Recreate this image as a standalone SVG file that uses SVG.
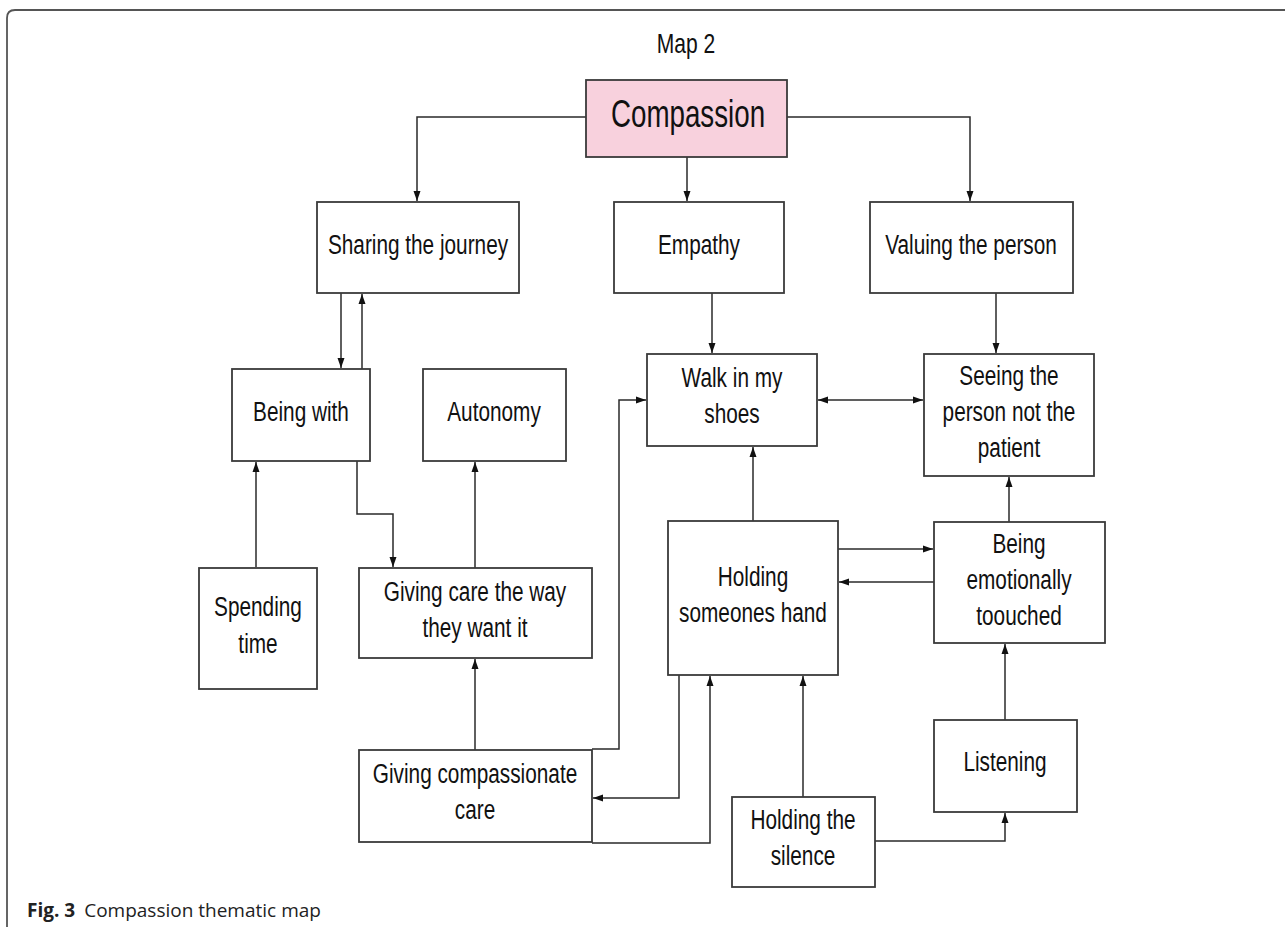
<svg xmlns="http://www.w3.org/2000/svg" width="1285" height="927" viewBox="0 0 1285 927">
<defs>
<style>
.box{fill:#fff;stroke:#3a3a3a;stroke-width:1.8}
.root{fill:#f8d1dd;stroke:#3a3a3a;stroke-width:1.8}
.t{font-family:"Liberation Sans",Arial,sans-serif;font-size:27px;fill:#111;text-anchor:middle}
.c{fill:none;stroke:#2a2a2a;stroke-width:1.5}
.cap{font-family:"Open Sans","Noto Sans",sans-serif;font-size:19px;fill:#222}
</style>
<marker id="ah" viewBox="0 0 10 10" refX="10" refY="5" markerWidth="10" markerHeight="10" markerUnits="userSpaceOnUse" orient="auto-start-reverse">
<path d="M0,1.5 L10,5 L0,8.5 Z" fill="#111"/>
</marker>
</defs>
<rect width="1285" height="927" fill="#fff"/>
<path d="M7,927 L7,18 Q7,10 15,10 L1285,10" fill="none" stroke="#555" stroke-width="1.8"/>
<text transform="translate(686 53) scale(0.78 1)" class="t">Map 2</text>

<g id="connectors">
<path class="c" d="M586,117 H417 V201" marker-end="url(#ah)"/>
<path class="c" d="M787,117 H970 V201" marker-end="url(#ah)"/>
<path class="c" d="M687,157 V201" marker-end="url(#ah)"/>
<path class="c" d="M712,293 V353" marker-end="url(#ah)"/>
<path class="c" d="M996,293 V353" marker-end="url(#ah)"/>
<path class="c" d="M818,400 H923" marker-start="url(#ah)" marker-end="url(#ah)"/>
<path class="c" d="M341,293 V368" marker-end="url(#ah)"/>
<path class="c" d="M362,369 V294" marker-end="url(#ah)"/>
<path class="c" d="M256,567 V462" marker-end="url(#ah)"/>
<path class="c" d="M357,461 V514 H393 V567" marker-end="url(#ah)"/>
<path class="c" d="M475,568 V462" marker-end="url(#ah)"/>
<path class="c" d="M475,750 V659" marker-end="url(#ah)"/>
<path class="c" d="M592,749 H619 V400 H646" marker-end="url(#ah)"/>
<path class="c" d="M592,843 H710 V676" marker-end="url(#ah)"/>
<path class="c" d="M679,675 V798 H593" marker-end="url(#ah)"/>
<path class="c" d="M803,797 V676" marker-end="url(#ah)"/>
<path class="c" d="M753,521 V447" marker-end="url(#ah)"/>
<path class="c" d="M875,841 H1005 V813" marker-end="url(#ah)"/>
<path class="c" d="M1005,720 V644" marker-end="url(#ah)"/>
<path class="c" d="M1009,522 V477" marker-end="url(#ah)"/>
<path class="c" d="M838,549 H933" marker-end="url(#ah)"/>
<path class="c" d="M934,582 H839" marker-end="url(#ah)"/>
</g>

<g id="compassion"><rect class="root" x="586" y="80" width="201" height="77"/><text transform="translate(688 127) scale(0.73 1)" class="t" style="font-size:38px">Compassion</text></g>
<g id="sharing"><rect class="box" x="317" y="202" width="202" height="91"/><text transform="translate(418 254) scale(0.77 1)" class="t">Sharing the journey</text></g>
<g id="empathy"><rect class="box" x="614" y="202" width="170" height="91"/><text transform="translate(699 254) scale(0.77 1)" class="t">Empathy</text></g>
<g id="valuing"><rect class="box" x="870" y="202" width="203" height="91"/><text transform="translate(971 254) scale(0.77 1)" class="t">Valuing the person</text></g>
<g id="walk"><rect class="box" x="647" y="354" width="170" height="92"/><text transform="translate(732 387) scale(0.77 1)" class="t">Walk in my</text><text transform="translate(732 423) scale(0.77 1)" class="t">shoes</text></g>
<g id="seeing"><rect class="box" x="924" y="354" width="170" height="122"/><text transform="translate(1009 385) scale(0.77 1)" class="t">Seeing the</text><text transform="translate(1009 421) scale(0.77 1)" class="t">person not the</text><text transform="translate(1009 457) scale(0.77 1)" class="t">patient</text></g>
<g id="beingwith"><rect class="box" x="232" y="369" width="138" height="92"/><text transform="translate(301 421) scale(0.77 1)" class="t">Being with</text></g>
<g id="autonomy"><rect class="box" x="423" y="369" width="143" height="92"/><text transform="translate(494 421) scale(0.77 1)" class="t">Autonomy</text></g>
<g id="spending"><rect class="box" x="199" y="568" width="118" height="121"/><text transform="translate(258 616) scale(0.77 1)" class="t">Spending</text><text transform="translate(258 653) scale(0.77 1)" class="t">time</text></g>
<g id="givingway"><rect class="box" x="359" y="568" width="233" height="90"/><text transform="translate(475 601) scale(0.77 1)" class="t">Giving care the way</text><text transform="translate(475 637) scale(0.77 1)" class="t">they want it</text></g>
<g id="holdinghand"><rect class="box" x="668" y="521" width="170" height="154"/><text transform="translate(753 586) scale(0.77 1)" class="t">Holding</text><text transform="translate(753 622) scale(0.77 1)" class="t">someones hand</text></g>
<g id="emotional"><rect class="box" x="934" y="522" width="171" height="121"/><text transform="translate(1019 553) scale(0.77 1)" class="t">Being</text><text transform="translate(1019 589) scale(0.77 1)" class="t">emotionally</text><text transform="translate(1019 625) scale(0.77 1)" class="t">toouched</text></g>
<g id="gcc"><rect class="box" x="359" y="750" width="233" height="92"/><text transform="translate(475 783) scale(0.77 1)" class="t">Giving compassionate</text><text transform="translate(475 819) scale(0.77 1)" class="t">care</text></g>
<g id="listening"><rect class="box" x="934" y="720" width="143" height="92"/><text transform="translate(1005 771) scale(0.77 1)" class="t">Listening</text></g>
<g id="silence"><rect class="box" x="732" y="797" width="143" height="90"/><text transform="translate(803 829) scale(0.77 1)" class="t">Holding the</text><text transform="translate(803 865) scale(0.77 1)" class="t">silence</text></g>

<text x="27" y="917" class="cap"><tspan font-weight="bold">Fig. 3</tspan><tspan dx="9">Compassion thematic map</tspan></text>
</svg>
